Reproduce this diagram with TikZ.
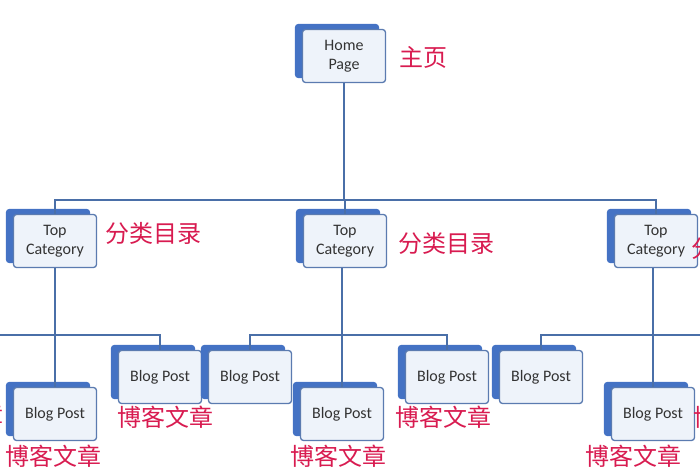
\documentclass[tikz,border=0pt]{standalone}
\usepackage{fontspec}
\setsansfont{Carlito}
\newfontfamily\cjk{Noto Sans CJK SC}
\usetikzlibrary{shadows}
\definecolor{linkblue}{HTML}{4A6FA8}
\definecolor{backblue}{HTML}{4472C4}
\definecolor{edgeblue}{HTML}{5B7BB0}
\definecolor{paleblue}{HTML}{EEF3FA}
\definecolor{labelred}{HTML}{D81B50}
\tikzset{
	page/.style={draw=edgeblue, line width=1.3pt, rounded corners=3pt, fill=paleblue,
		minimum width=83pt, minimum height=53pt, align=center, text=black!80,
		font=\sffamily\fontsize{16}{19}\selectfont,
		copy shadow={shadow xshift=-7pt, shadow yshift=5pt, fill=backblue, draw=backblue}},
	link/.style={draw=linkblue, line width=1.6pt},
	tag/.style={text=labelred, font=\cjk\fontsize{24}{24}\selectfont, anchor=west}
}
\begin{document}
\begin{tikzpicture}[x=1pt,y=-1pt]
	\useasboundingbox (0,0) rectangle (700,470);
	\clip (0,0) rectangle (700,470);
	% Pages
	\node[page] (home) at (344,56) {Home\\Page};
	\node[page] (catL) at (55,241) {Top\\Category};
	\node[page] (catM) at (345,241) {Top\\Category};
	\node[page] (catR) at (656,241) {Top\\Category};
	\node[page] (postLa) at (55,414) {Blog Post};
	\node[page] (postLb) at (160,377) {Blog Post};
	\node[page] (postMa) at (250,377) {Blog Post};
	\node[page] (postMb) at (342,414) {Blog Post};
	\node[page] (postMc) at (447,377) {Blog Post};
	\node[page] (postRa) at (541,377) {Blog Post};
	\node[page] (postRb) at (653,414) {Blog Post};
	\coordinate (edgeL) at (0,335);
	\coordinate (edgeR) at (700,335);
	% Links
	\draw[link] (home.south) -- (home.south |- 0,200);
	\draw[link] (catL.north) -- (catL.north |- 0,200) -- (catR.north |- 0,200) -- (catR.north);
	\draw[link] (catM.north) -- (catM.north |- 0,200);
	\draw[link] (postLa.north |- catL.south) -- (postLa.north);
	\draw[link] (edgeL) -- (postLb.north |- edgeL) -- (postLb.north);
	\draw[link] (postMb.north |- catM.south) -- (postMb.north);
	\draw[link] (postMa.north) -- (postMa.north |- edgeL) -- (postMc.north |- edgeL) -- (postMc.north);
	\draw[link] (postRb.north |- catR.south) -- (postRb.north);
	\draw[link] (postRa.north) -- (postRa.north |- edgeR) -- (edgeR);
	% Labels
	\node[tag] (tHome) at (396,57) {主页};
	\node[tag] (tCatL) at (102,233) {分类目录};
	\node[tag] (tCatM) at (395,243) {分类目录};
	\node[tag] (tCatR) at (688,248) {分类目录};
	\node[tag] (tPostLb) at (114,417) {博客文章};
	\node[tag] (tPostLa) at (2,456) {博客文章};
	\node[tag] (tPostMb) at (287,456) {博客文章};
	\node[tag] (tPostMc) at (392,417) {博客文章};
	\node[tag] (tPostRb) at (582,456) {博客文章};
	\node[tag] (tPostRc) at (690,417) {博客文章};
	\node[tag, anchor=east] (tPostX) at (7,415) {博客文章};
\end{tikzpicture}
\end{document}
